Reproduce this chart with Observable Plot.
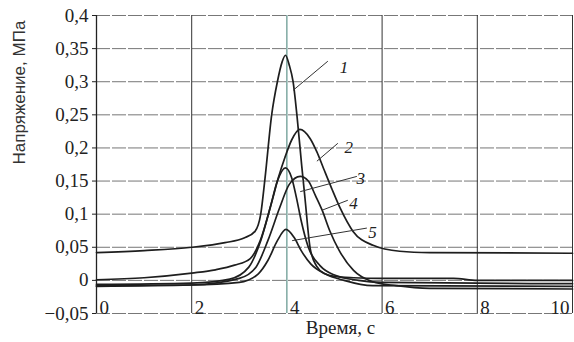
<!DOCTYPE html>
<html>
<head>
<meta charset="utf-8">
<script src="https://cdn.jsdelivr.net/npm/d3@7"></script>
<script src="https://cdn.jsdelivr.net/npm/@observablehq/plot@0.6"></script>
<style>
  html, body { margin: 0; padding: 0; background: #fff; }
  #chart svg { display: block; }
</style>
</head>
<body>
<div id="chart"></div>
<script>
// Axis ticks
const xTicks = [0, 2, 4, 6, 8, 10];
const xTickLabels = ["0", "2", "4", "6", "8", "10"];
const yTicks = [-0.05, 0, 0.05, 0.1, 0.15, 0.2, 0.25, 0.3, 0.35, 0.4];
const yTickLabels = ["−0,05", "0", "0,05", "0,1", "0,15", "0,2", "0,25", "0,3", "0,35", "0,4"];
const xTitle = "Время, с";
const yTitle = "Напряжение, МПа";

// Curve 1
const t1 = [0, 1, 2, 2.7, 3.1, 3.33, 3.45, 3.54, 3.68, 3.8, 3.9, 3.97, 4.05, 4.13, 4.21, 4.31, 4.38, 4.49, 4.62, 4.8, 5.0, 5.4, 6.0, 7.5, 8.0, 10];
const s1 = [0.042, 0.045, 0.05, 0.057, 0.064, 0.074, 0.1, 0.154, 0.25, 0.3, 0.33, 0.34, 0.325, 0.3, 0.25, 0.174, 0.124, 0.048, 0.022, 0.01, 0.006, 0.004, 0.003, 0.003, 0.0, 0.0];
// Curve 2
const t2 = [0, 1, 2, 2.5, 2.9, 3.23, 3.44, 3.68, 3.82, 3.96, 4.1, 4.27, 4.49, 4.63, 4.77, 4.94, 5.12, 5.39, 5.81, 6.37, 7.0, 10];
const s2 = [0.001, 0.004, 0.011, 0.016, 0.023, 0.033, 0.06, 0.118, 0.155, 0.186, 0.212, 0.228, 0.214, 0.194, 0.169, 0.139, 0.109, 0.074, 0.053, 0.044, 0.042, 0.041];
// Curve 3
const t3 = [0, 2, 2.8, 3.2, 3.45, 3.65, 3.8, 3.97, 4.1, 4.2, 4.3, 4.45, 4.7, 5.0, 5.5, 6.0, 10];
const s3 = [-0.006, -0.004, 0.002, 0.02, 0.06, 0.11, 0.15, 0.17, 0.155, 0.125, 0.09, 0.05, 0.022, 0.008, 0.0, -0.003, -0.005];
// Curve 4
const t4 = [0, 2, 3.0, 3.35, 3.6, 3.85, 4.05, 4.28, 4.45, 4.6, 4.74, 4.9, 5.1, 5.4, 5.8, 6.3, 7.0, 10];
const s4 = [-0.009, -0.007, 0.003, 0.02, 0.06, 0.11, 0.145, 0.157, 0.15, 0.128, 0.106, 0.075, 0.045, 0.015, -0.002, -0.008, -0.012, -0.013];
// Curve 5
const t5 = [0, 2, 3.0, 3.4, 3.6, 3.8, 3.98, 4.15, 4.3, 4.5, 4.8, 5.2, 5.8, 10];
const s5 = [-0.008, -0.007, -0.003, 0.01, 0.03, 0.06, 0.077, 0.065, 0.045, 0.025, 0.01, 0.0, -0.008, -0.009];

// Curve labels and leader lines
const labelNames = ["1", "2", "3", "4", "5"];
const labelX = [5.2, 5.3, 5.55, 5.4, 5.8];
const labelY = [0.322, 0.2, 0.154, 0.116, 0.072];
const leaderX1 = [4.86, 5.07, 5.47, 5.28, 5.68];
const leaderY1 = [0.331, 0.207, 0.157, 0.121, 0.079];
const leaderX2 = [4.13, 4.63, 4.28, 4.74, 4.11];
const leaderY2 = [0.287, 0.18, 0.134, 0.106, 0.06];

const series = [[t1, s1], [t2, s2], [t3, s3], [t4, s4], [t5, s5]];
const pts = series.flatMap(([t, s], k) => t.map((x, i) => ({x, y: s[i], k: labelNames[k]})));
const labels = labelNames.map((n, i) => ({n, x: labelX[i], y: labelY[i], x1: leaderX1[i], y1: leaderY1[i], x2: leaderX2[i], y2: leaderY2[i]}));
const xLab = xTicks.map((x, i) => ({x, t: xTickLabels[i]}));

const serif = "Liberation Serif";
const sans = "Liberation Sans";

const chart = Plot.plot({
  width: 574,
  height: 342,
  marginLeft: 96,
  marginRight: 2,
  marginTop: 15,
  marginBottom: 29,
  x: {domain: [0, 10], axis: null},
  y: {domain: [-0.05, 0.4]},
  style: {fontFamily: serif, fontSize: "19px", color: "#222", background: "#fff"},
  marks: [
    Plot.ruleY(yTicks, {stroke: "#777", strokeWidth: 1, strokeDasharray: "14,2"}),
    Plot.ruleX(xTicks, {stroke: (d) => d === 4 ? "#3f7d74" : "#333", strokeWidth: 1}),
    Plot.ruleX([0], {stroke: "#222", strokeWidth: 1.3}),
    Plot.axisY({ticks: yTicks, tickFormat: (d, i) => yTickLabels[i], tickSize: 4, tickPadding: 4, label: null, fontSize: 19, fontFamily: serif}),
    Plot.text(xLab.filter(d => d.x !== 10), {
      x: "x", y: -0.05, text: "t", textAnchor: "start", dx: 3,
      lineAnchor: "bottom", dy: 0, fontSize: 19, fontFamily: serif, fill: "#222"
    }),
    Plot.text(xLab.filter(d => d.x === 10), {
      x: "x", y: -0.05, text: "t", textAnchor: "end", dx: -3,
      lineAnchor: "bottom", dy: 0, fontSize: 19, fontFamily: serif, fill: "#222"
    }),
    Plot.line(pts, {x: "x", y: "y", z: "k", curve: "monotone-x", stroke: "#1e1e1e", strokeWidth: 1.7}),
    Plot.link(labels, {x1: "x1", y1: "y1", x2: "x2", y2: "y2", stroke: "#333", strokeWidth: 1}),
    Plot.text(labels, {x: "x", y: "y", text: "n", fontStyle: "italic", fontSize: 17, fontFamily: serif, textAnchor: "middle", fill: "#222"}),
    Plot.text([xTitle], {frameAnchor: "bottom", dx: 6, dy: 14, lineAnchor: "middle", fontSize: 19, fontFamily: serif, fill: "#222"}),
    Plot.text([yTitle], {frameAnchor: "left", dx: -77, rotate: -90, fontFamily: sans, fontSize: 17, fill: "#333"})
  ]
});
document.getElementById("chart").appendChild(chart);
</script>
</body>
</html>
